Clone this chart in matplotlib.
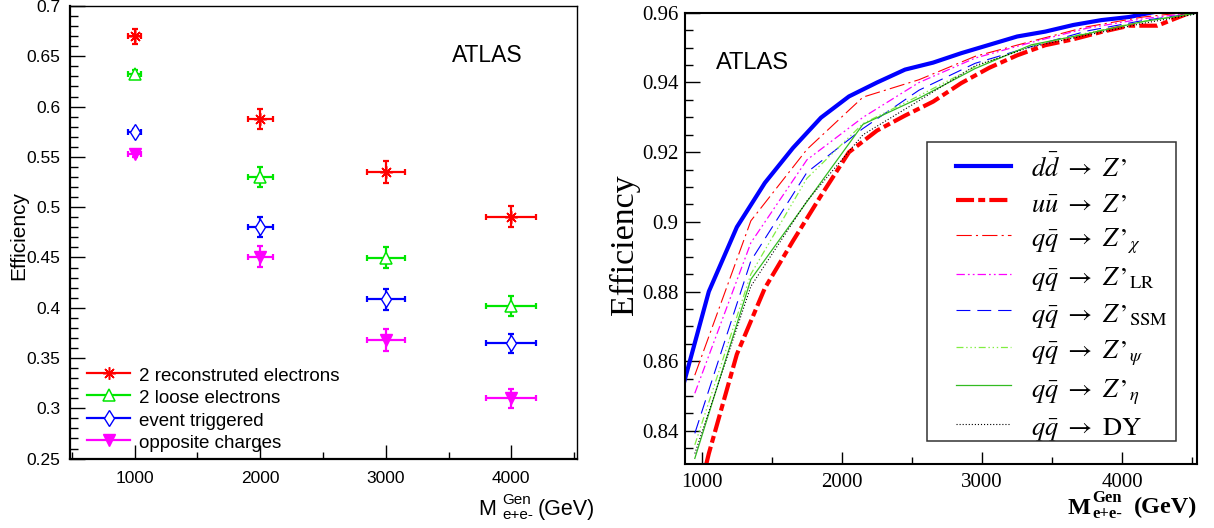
import matplotlib
matplotlib.use("Agg")
import matplotlib.pyplot as plt
from matplotlib.ticker import MultipleLocator, FuncFormatter, FixedLocator
from matplotlib.lines import Line2D
from matplotlib.patches import Rectangle

plt.rcParams['mathtext.fontset'] = 'stix'
plt.rcParams['lines.scale_dashes'] = False

# ---------------- data: left panel ----------------
mass = [1000, 2000, 3000, 4000]
mass_err = [50, 100, 150, 200]
eff_reco = [0.670, 0.5875, 0.5346, 0.4907]
err_reco = [0.0075, 0.010, 0.011, 0.010]
eff_loose = [0.632, 0.5296, 0.4496, 0.4017]
err_loose = [0.004, 0.010, 0.0105, 0.010]
eff_trig = [0.5744, 0.4807, 0.4084, 0.3645]
err_trig = [0.003, 0.010, 0.0105, 0.0095]
eff_charge = [0.553, 0.4509, 0.3679, 0.3099]
err_charge = [0.003, 0.010, 0.0105, 0.0095]
left_labels = ["2 reconstruted electrons", "2 loose electrons",
               "event triggered", "opposite charges"]

# ---------------- data: right panel ----------------
x_dd = [850, 1050, 1250, 1450, 1650, 1850, 2050, 2250, 2450, 2650,
        2850, 3050, 3250, 3450, 3650, 3850, 4050, 4250]
eff_dd = [0.8505, 0.8800, 0.8985, 0.9112, 0.9212, 0.9299, 0.9360, 0.9400,
          0.9437, 0.9457, 0.9484, 0.9508, 0.9532, 0.9546, 0.9565, 0.9579,
          0.9588, 0.9604]
x_uu = [850, 1050, 1250, 1450, 1650, 1850, 2050, 2250, 2450, 2650,
        2850, 3050, 3250, 3450, 3650, 3850, 4050, 4250, 4450, 4650]
eff_uu = [0.800, 0.8335, 0.8620, 0.8810, 0.8945, 0.9075, 0.9200, 0.9262,
          0.9305, 0.9345, 0.9398, 0.9442, 0.9478, 0.9507, 0.9524, 0.9545,
          0.9563, 0.9563, 0.9595, 0.9625]
x_qq = [950, 1350, 1750, 2150, 2550, 2950, 3350, 3750, 4150, 4550]
eff_chi = [0.8560, 0.9003, 0.9208, 0.9358, 0.9408, 0.9475, 0.9518, 0.9560, 0.9588, 0.9605]
eff_lr = [0.8508, 0.8940, 0.9178, 0.9300, 0.9400, 0.9470, 0.9515, 0.9556, 0.9583, 0.9602]
eff_ssm = [0.8393, 0.8888, 0.9142, 0.9268, 0.9378, 0.9455, 0.9503, 0.9548, 0.9578, 0.9600]
eff_psi = [0.8360, 0.8850, 0.9125, 0.9282, 0.9362, 0.9445, 0.9505, 0.9542, 0.9575, 0.9600]
eff_eta = [0.8321, 0.8835, 0.9058, 0.9280, 0.9355, 0.9440, 0.9508, 0.9540, 0.9575, 0.9600]
eff_dy = [0.8335, 0.8815, 0.9060, 0.9250, 0.9348, 0.9448, 0.9502, 0.9536, 0.9570, 0.9598]
right_labels = [r"$d\bar{d}\ \rightarrow\ Z\,’$", r"$u\bar{u}\ \rightarrow\ Z\,’$",
                r"$q\bar{q}\ \rightarrow\ Z\,’_{\chi}$", r"$q\bar{q}\ \rightarrow\ Z\,’_{\mathrm{LR}}$",
                r"$q\bar{q}\ \rightarrow\ Z\,’_{\mathrm{SSM}}$", r"$q\bar{q}\ \rightarrow\ Z\,’_{\psi}$",
                r"$q\bar{q}\ \rightarrow\ Z\,’_{\eta}$", r"$q\bar{q}\ \rightarrow\ \mathrm{DY}$"]

W, H = 1214, 528
fig = plt.figure(figsize=(W / 100, H / 100), dpi=100)


def fx(px):
    return px / W


def fy(py):
    return 1 - py / H


fmt = FuncFormatter(lambda v, p: "%g" % round(v, 4))
SANS = "Liberation Sans"
SERIF = "Liberation Serif"

# ================= LEFT PANEL =================
ax1 = fig.add_axes([fx(70), fy(458.6), fx(577) - fx(70), (458.6 - 6) / H])
ax1.set_xlim(485, 4523)
ax1.set_ylim(0.25, 0.7)

styles = [
    (eff_reco, err_reco, '#ff0000', dict(marker=(8, 2, 0), ms=9, mew=1.1, mfc='#ff0000')),
    (eff_loose, err_loose, '#00e600', dict(marker='^', ms=9, mew=1.1, mfc='white')),
    (eff_trig, err_trig, '#0000ff', dict(marker='d', ms=8, mew=1.0, mfc='white')),
    (eff_charge, err_charge, '#ff00ff', dict(marker='v', ms=8, mew=1.0, mfc='#ff00ff')),
]
handles_l = []
for (vals, errs, col, mk), lab in zip(styles, left_labels):
    ax1.errorbar(mass, vals, xerr=mass_err, yerr=errs, fmt='none', ecolor=col,
                 elinewidth=1.6, capsize=2.5, capthick=1.6, zorder=2)
    ax1.plot(mass, vals, linestyle='none', color=col, mec=col, zorder=3, **mk)
    handles_l.append(Line2D([], [], color=col, lw=1.6, mec=col, **mk))

ax1.xaxis.set_major_locator(FixedLocator([1000, 2000, 3000, 4000]))
ax1.xaxis.set_minor_locator(MultipleLocator(500))
ax1.yaxis.set_major_locator(MultipleLocator(0.05))
ax1.yaxis.set_minor_locator(MultipleLocator(0.01))
ax1.yaxis.set_major_formatter(fmt)
ax1.tick_params(axis='both', which='both', direction='in', top=False, right=False,
                width=1.0, colors='black')
ax1.tick_params(axis='y', which='major', length=10.8, pad=6.8)
ax1.tick_params(axis='y', which='minor', length=5.5)
ax1.tick_params(axis='x', which='major', length=10, pad=9)
ax1.tick_params(axis='x', which='minor', length=5)
for lab in ax1.get_xticklabels() + ax1.get_yticklabels():
    lab.set_fontfamily(SANS)
    lab.set_fontsize(12.5)
ax1.spines['left'].set_linewidth(1.6)
ax1.spines['bottom'].set_linewidth(1.6)
ax1.spines['top'].set_linewidth(1.0)
ax1.spines['right'].set_linewidth(1.0)

leg1 = ax1.legend(handles_l, left_labels, loc='upper left',
                  bbox_to_anchor=(fx(87), fy(364.7)), bbox_transform=fig.transFigure,
                  frameon=False, borderpad=0, borderaxespad=0, handlelength=2.3,
                  handletextpad=0.48, handleheight=1.2, labelspacing=0.14,
                  prop={'family': SANS, 'size': 13.5})

fig.text(fx(451.6), fy(62), "ATLAS", fontsize=16.5, family=SANS, va='baseline', ha='left')
fig.text(fx(19), fy(235), "Efficiency", fontsize=15, family=SANS, rotation=90,
         ha='center', va='center')
fig.text(fx(478), fy(515), "M", fontsize=15.5, family=SANS, va='baseline', ha='left')
fig.text(fx(502), fy(504), "Gen", fontsize=11, family=SANS, va='baseline', ha='left')
fig.text(fx(502), fy(519), "e+e-", fontsize=11, family=SANS, va='baseline', ha='left')
fig.text(fx(595), fy(515), "(GeV)", fontsize=15.5, family=SANS, va='baseline', ha='right')

# ================= RIGHT PANEL =================
ax2 = fig.add_axes([fx(685), fy(464), fx(1197) - fx(685), (464 - 12.8) / H])
ax2.set_xlim(880, 4533)
ax2.set_ylim(0.8305, 0.96)

curves = [
    (x_dd, eff_dd, dict(color='#0000ff', lw=3.0, linestyle='-')),
    (x_uu, eff_uu, dict(color='#ff0000', lw=3.0, linestyle=(0, (13, 3, 5, 3)))),
    (x_qq, eff_chi, dict(color='#ff0000', lw=0.8, linestyle=(0, (11, 3, 1.5, 3)))),
    (x_qq, eff_lr, dict(color='#ff00ff', lw=0.9, linestyle=(0, (6, 2.2, 1.3, 2.2, 1.3, 2.2)))),
    (x_qq, eff_ssm, dict(color='#0000ff', lw=0.8, linestyle=(0, (10, 5)))),
    (x_qq, eff_psi, dict(color='#80ee40', lw=0.9, linestyle=(0, (5, 2, 1, 2, 1, 2, 1, 2)))),
    (x_qq, eff_eta, dict(color='#33bb22', lw=0.9, linestyle='-')),
    (x_qq, eff_dy, dict(color='#000000', lw=0.8, linestyle=(0, (0.8, 1.4)))),
]
handles_r = []
for xs, ys, st in curves:
    ln, = ax2.plot(xs, ys, **st)
    handles_r.append(ln)

ax2.xaxis.set_major_locator(FixedLocator([1000, 2000, 3000, 4000]))
ax2.xaxis.set_minor_locator(MultipleLocator(500))
ax2.yaxis.set_major_locator(MultipleLocator(0.02))
ax2.yaxis.set_minor_locator(MultipleLocator(0.005))
ax2.yaxis.set_major_formatter(fmt)
ax2.tick_params(axis='both', which='both', direction='in', top=False, right=False,
                width=1.0, colors='black')
ax2.tick_params(axis='y', which='major', length=10.8, pad=4.8)
ax2.tick_params(axis='y', which='minor', length=5.5)
ax2.tick_params(axis='x', which='major', length=9, pad=6.5)
ax2.tick_params(axis='x', which='minor', length=5)
for lab in ax2.get_xticklabels() + ax2.get_yticklabels():
    lab.set_fontfamily(SERIF)
    lab.set_fontsize(15)
for sp in ax2.spines.values():
    sp.set_linewidth(1.5)

fig.add_artist(Rectangle((fx(926.7), fy(440.7)), fx(1175.7) - fx(926.7), (440.7 - 141.7) / H,
                         transform=fig.transFigure, fill=False, ec='#333333', lw=1.1))
leg2 = ax2.legend(handles_r, right_labels, loc='upper left',
                  bbox_to_anchor=(fx(956), fy(154)), bbox_transform=fig.transFigure,
                  frameon=False, borderpad=0, borderaxespad=0, handlelength=2.1,
                  handletextpad=0.76, handleheight=1.3, labelspacing=0.21,
                  prop={'size': 19})

fig.text(fx(716), fy(69.3), "ATLAS", fontsize=17, family=SANS, va='baseline', ha='left')
fig.text(fx(624), fy(245), "Efficiency", fontsize=24.5, family=SERIF, rotation=90,
         ha='center', va='center')
fig.text(fx(1068), fy(513.5), "M", fontsize=17.5, family=SERIF, weight='bold',
         va='baseline', ha='left')
fig.text(fx(1092.6), fy(502.4), "Gen", fontsize=12, family=SERIF, weight='bold',
         va='baseline', ha='left')
fig.text(fx(1092.6), fy(518), "e+e-", fontsize=12, family=SERIF, weight='bold',
         va='baseline', ha='left')
fig.text(fx(1197), fy(513.5), "(GeV)", fontsize=17.5, family=SERIF, weight='bold',
         va='baseline', ha='right')

fig.savefig("out.png", dpi=100)
